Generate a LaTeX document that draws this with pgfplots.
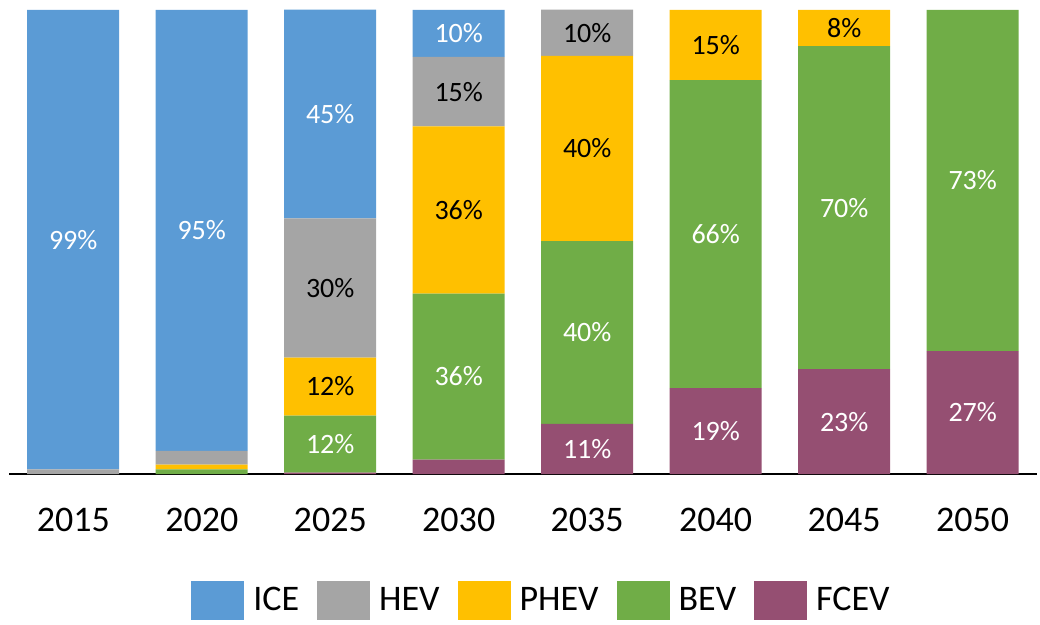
\documentclass[border=0pt]{standalone}
\usepackage{fontspec}
\setmainfont{Carlito}
\usepackage{pgfplots}
\pgfplotsset{compat=1.18}
\definecolor{cICE}{HTML}{5B9BD5}
\definecolor{cHEV}{HTML}{A5A5A5}
\definecolor{cPHEV}{HTML}{FFC000}
\definecolor{cBEV}{HTML}{70AD47}
\definecolor{cFCEV}{HTML}{954F72}
\begin{document}
\begin{tikzpicture}[x=1pt,y=1pt]
\path[use as bounding box] (0,0) rectangle (1040,624);
\begin{axis}[
  at={(9pt,150pt)}, anchor=south west,
  scale only axis, width=1028pt, height=464pt,
  ybar stacked, bar width=92pt,
  xmin=-0.5, xmax=7.5, ymin=0, ymax=100,
  axis x line=bottom, axis y line=none,
  x axis line style={-, line width=1.8pt, black},
  xtick={0,...,7}, xticklabels={2015,2020,2025,2030,2035,2040,2045,2050},
  major tick length=0pt,
  xticklabel style={font=\fontsize{36}{40}\selectfont, inner sep=0pt, yshift=-34pt, anchor=north},
  reverse legend,
  legend columns=5,
  legend image code/.code={\fill[#1] (0pt,-19.5pt) rectangle (53pt,19.5pt);},
  legend style={at={(0.517,-0.2716)}, anchor=center, draw=none, fill=none,
    font=\fontsize{36}{40}\selectfont,
    /tikz/every odd column/.append style={column sep=9pt},
    /tikz/every even column/.append style={column sep=18pt},
    nodes={inner sep=0pt}},
]
\addplot[fill=cFCEV, draw=none] coordinates {(0,0) (1,0) (2,0.3) (3,3.1) (4,10.8) (5,18.5) (6,22.6) (7,26.5)};
\addplot[fill=cBEV, draw=none] coordinates {(0,0) (1,1) (2,12.3) (3,35.8) (4,39.4) (5,66.4) (6,69.6) (7,73.5)};
\addplot[fill=cPHEV, draw=none] coordinates {(0,0) (1,1) (2,12.5) (3,36) (4,39.9) (5,15.1) (6,7.8) (7,0)};
\addplot[fill=cHEV, draw=none] coordinates {(0,1) (1,3) (2,30) (3,15) (4,10) (5,0) (6,0) (7,0)};
\addplot[fill=cICE, draw=none] coordinates {(0,99) (1,95) (2,45) (3,10.1) (4,0) (5,0) (6,0) (7,0)};
\legend{FCEV,BEV,PHEV,HEV,ICE}
\end{axis}
\begin{axis}[
  at={(9pt,150pt)}, anchor=south west,
  scale only axis, width=1028pt, height=464pt,
  xmin=-0.5, xmax=7.5, ymin=0, ymax=100,
  hide axis, clip=false,
  nodes near coords, point meta=explicit symbolic,
  every node near coord/.append style={anchor=center, font=\fontsize{28}{32}\selectfont, inner sep=0pt},
]
\addplot[draw=none, mark=none, every node near coord/.append style={text=white}] coordinates {
 (0,50.5) [99\%] (1,52.5) [95\%] (2,6.45) [12\%] (2,77.55) [45\%]
 (3,21) [36\%] (3,94.95) [10\%]
 (4,5.4) [11\%] (4,30.5) [40\%]
 (5,9.25) [19\%] (5,51.7) [66\%]
 (6,11.3) [23\%] (6,57.4) [70\%]
 (7,13.25) [27\%] (7,63.25) [73\%]};
\addplot[draw=none, mark=none, every node near coord/.append style={text=black}] coordinates {
 (2,18.85) [12\%] (2,40.1) [30\%]
 (3,56.9) [36\%] (3,82.4) [15\%]
 (4,70.15) [40\%] (4,95.05) [10\%]
 (5,92.45) [15\%] (6,96.1) [8\%]};
\end{axis}
\end{tikzpicture}
\end{document}
